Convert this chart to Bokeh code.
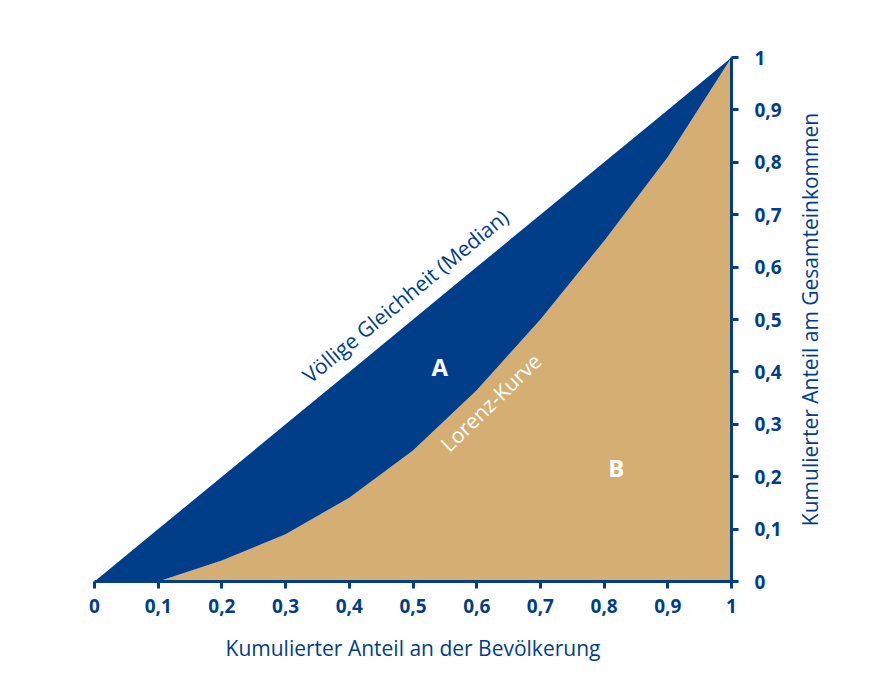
from bokeh.plotting import figure
from bokeh.models import Range1d, FixedTicker, Label
from bokeh.layouts import row
from bokeh.embed import file_html
from bokeh.resources import INLINE
import math

# ---- data ----
population_share = [0.0, 0.1, 0.2, 0.3, 0.4, 0.5, 0.6, 0.7, 0.8, 0.9, 1.0]
equality_line = [0.0, 0.1, 0.2, 0.3, 0.4, 0.5, 0.6, 0.7, 0.8, 0.9, 1.0]
lorenz_curve = [0.0, 0.0, 0.04, 0.09, 0.16, 0.25, 0.365, 0.50, 0.65, 0.81, 1.0]
tick_values = [0.0, 0.1, 0.2, 0.3, 0.4, 0.5, 0.6, 0.7, 0.8, 0.9, 1.0]
tick_labels = ["0", "0,1", "0,2", "0,3", "0,4", "0,5", "0,6", "0,7", "0,8", "0,9", "1"]
x_title = "Kumulierter Anteil an der Bevölkerung"
y_title = "Kumulierter Anteil am Gesamteinkommen"
equality_label = "Völlige Gleichheit (Median)"
lorenz_label = "Lorenz-Kurve"

NAVY = "#003e8a"
TAN = "#d5ae73"
FONT = "Open Sans"

p = figure(width=790, height=686, output_backend="svg", toolbar_location=None,
           x_range=Range1d(0, 1), y_range=Range1d(0, 1),
           y_axis_location="right",
           min_border_left=94, min_border_top=57, min_border_right=59, min_border_bottom=105)
p.outline_line_color = None
p.xgrid.visible = False
p.ygrid.visible = False
p.background_fill_color = "white"
p.border_fill_color = "white"

# areas
p.varea(x=population_share, y1=0, y2=lorenz_curve, fill_color=TAN)
p.varea(x=population_share, y1=lorenz_curve, y2=equality_line, fill_color=NAVY)

overrides = dict(zip(tick_values, tick_labels))
for ax in (p.xaxis[0], p.yaxis[0]):
    ax.ticker = FixedTicker(ticks=tick_values)
    ax.major_label_overrides = overrides
    ax.axis_line_color = NAVY
    ax.axis_line_width = 3
    ax.major_tick_line_color = NAVY
    ax.major_tick_line_width = 3
    ax.major_tick_in = 0
    ax.major_tick_out = 7
    ax.minor_tick_line_color = None
    ax.major_label_text_color = NAVY
    ax.major_label_text_font = FONT
    ax.major_label_text_font_size = "19px"
    ax.major_label_text_font_style = "bold"
    ax.axis_label_text_font = FONT
    ax.axis_label_text_font_size = "21px"
    ax.axis_label_text_font_style = "normal"
    ax.axis_label_text_color = NAVY

p.xaxis[0].major_label_standoff = 10
p.xaxis[0].axis_label = x_title
p.xaxis[0].axis_label_standoff = 18
p.yaxis[0].major_label_standoff = 16

# annotations
p.add_layout(Label(x=0.488, y=0.545, text=equality_label, angle=math.atan2(524, 637),
                   text_align="center", text_baseline="middle",
                   text_font=FONT, text_font_size="21px", text_color=NAVY))
p.add_layout(Label(x=0.622, y=0.342, text=lorenz_label, angle=math.radians(44),
                   text_align="center", text_baseline="middle",
                   text_font=FONT, text_font_size="21px", text_color="white"))
p.add_layout(Label(x=0.542, y=0.41, text="A", text_align="center", text_baseline="middle",
                   text_font=FONT, text_font_size="24px", text_font_style="bold",
                   text_color="white"))
p.add_layout(Label(x=0.819, y=0.218, text="B", text_align="center", text_baseline="middle",
                   text_font=FONT, text_font_size="24px", text_font_style="bold",
                   text_color="white"))

# right-hand axis title (reads bottom to top) in a narrow companion figure
p2 = figure(width=93, height=686, output_backend="svg", toolbar_location=None,
            x_range=Range1d(0, 1), y_range=Range1d(0, 1),
            x_axis_type=None, y_axis_type=None,
            min_border_left=0, min_border_right=0, min_border_top=57, min_border_bottom=105)
p2.outline_line_color = None
p2.xgrid.visible = False
p2.ygrid.visible = False
p2.add_layout(Label(x=0.215, y=0.5, text=y_title, angle=math.pi / 2,
                    text_align="center", text_baseline="middle",
                    text_font=FONT, text_font_size="21px", text_color=NAVY))

layout = row(p, p2)
open("out.html", "w").write(file_html(layout, INLINE))
